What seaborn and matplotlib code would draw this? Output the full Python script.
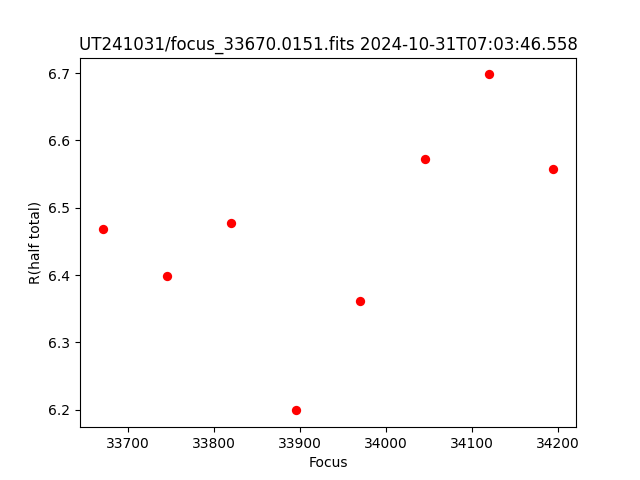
import matplotlib
matplotlib.use("Agg")
import matplotlib.pyplot as plt
import seaborn as sns
import pandas as pd

focus = [33670, 33745, 33820, 33895, 33970, 34045, 34120, 34195]
r_half = [6.469, 6.399, 6.477, 6.199, 6.362, 6.573, 6.698, 6.558]
title = "UT241031/focus_33670.0151.fits 2024-10-31T07:03:46.558"

df = pd.DataFrame({"Focus": focus, "R(half total)": r_half})

fig, ax = plt.subplots(figsize=(6.4, 4.8), dpi=100)
sns.scatterplot(data=df, x="Focus", y="R(half total)", color="red", s=45,
                linewidth=0, ax=ax)
ax.set_title(title)
ax.set_xlabel("Focus")
ax.set_ylabel("R(half total)")
fig.savefig("out.png", dpi=100)
